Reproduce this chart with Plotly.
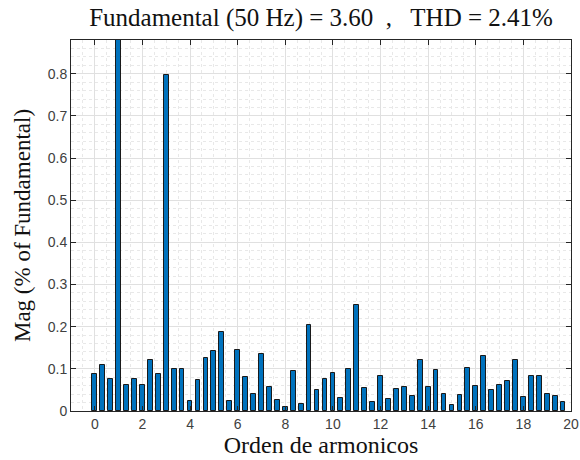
import plotly.graph_objects as go

# Harmonic order (bins every 1/3 of the fundamental)
orders = [k / 3 for k in range(60)]
# Magnitude (% of fundamental)
mags = [
    0.087, 0.110, 0.076, 1.000, 0.062, 0.076, 0.062, 0.120, 0.087, 0.797,
    0.100, 0.100, 0.0245, 0.073, 0.125, 0.143, 0.187, 0.0245, 0.145, 0.081,
    0.040, 0.135, 0.057, 0.026, 0.010, 0.095, 0.017, 0.204, 0.050, 0.077,
    0.090, 0.031, 0.099, 0.251, 0.055, 0.021, 0.084, 0.029, 0.053, 0.058,
    0.036, 0.121, 0.057, 0.097, 0.040, 0.014, 0.038, 0.103, 0.059, 0.130,
    0.050, 0.062, 0.072, 0.121, 0.033, 0.083, 0.082, 0.040, 0.036, 0.021,
]
x_ticks = list(range(0, 21, 2))
y_ticks = [round(0.1 * i, 1) for i in range(9)]
title_text = "Fundamental (50 Hz) = 3.60  ,   THD = 2.41%"
x_label = "Orden de armonicos"
y_label = "Mag (% of Fundamental)"

fig = go.Figure(go.Bar(
    x=orders, y=mags, width=0.2,
    marker=dict(color="#0072BD", line=dict(color="#1a1a1a", width=1)),
))

axis_common = dict(
    showline=True, linecolor="#262626", linewidth=1, mirror="ticks",
    ticks="inside", ticklen=5, tickcolor="#262626",
    gridcolor="#e0e0e0", gridwidth=1, zeroline=False, automargin=False,
    tickfont=dict(family="Liberation Sans, Arial, sans-serif", size=14, color="#404040"),
)

fig.update_xaxes(
    range=[-1, 20], tickvals=x_ticks, ticktext=[str(v) for v in x_ticks],
    minor=dict(dtick=0.5, tick0=0, showgrid=True, gridcolor="#e8e8e8", griddash="dot", ticks=""),
    title=dict(text=x_label, font=dict(family="Liberation Serif, serif", size=24, color="#111"), standoff=5),
    **axis_common,
)
fig.update_yaxes(
    range=[0, 0.88], tickvals=y_ticks, ticktext=[("0" if v == 0 else f"{v:g}") for v in y_ticks],
    minor=dict(dtick=0.02, tick0=0, showgrid=True, gridcolor="#e8e8e8", griddash="dot", ticks=""),
    title=dict(text=y_label, font=dict(family="Liberation Serif, serif", size=23, color="#111"), standoff=10),
    **axis_common,
)

fig.update_layout(
    width=580, height=460,
    margin=dict(l=71, r=9, t=40, b=49, autoexpand=False),
    plot_bgcolor="white", paper_bgcolor="white",
    showlegend=False, bargap=0,
    title=dict(text=title_text, x=0.5535, xanchor="center", y=0.962, yanchor="middle",
               font=dict(family="Liberation Serif, serif", size=25, color="#111")),
)

fig.write_html("out.html")
